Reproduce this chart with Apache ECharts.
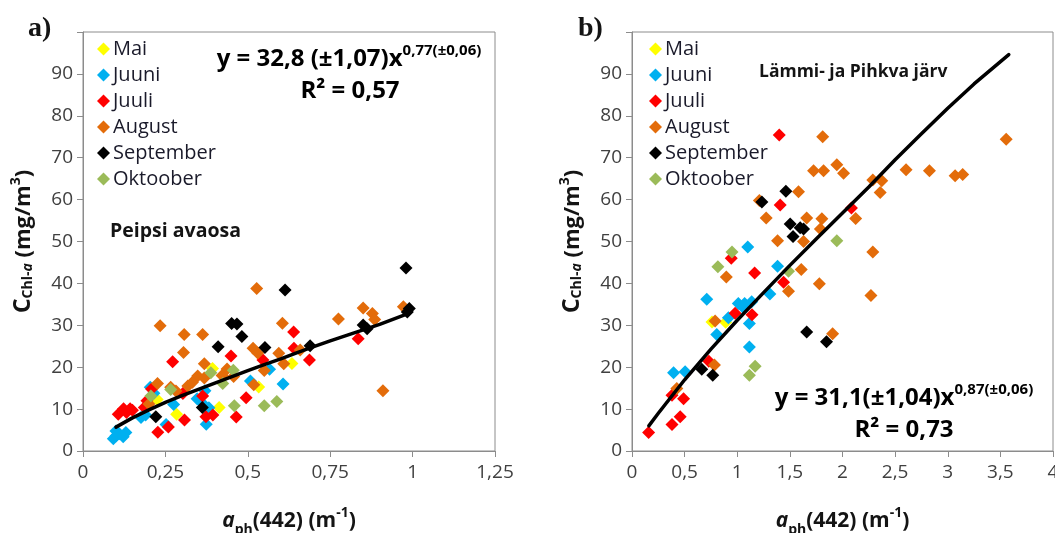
<!DOCTYPE html>
<html>
<head>
<meta charset="utf-8">
<script src="https://cdn.jsdelivr.net/npm/echarts@6/dist/echarts.min.js"></script>
<style>
  html, body { margin: 0; padding: 0; background: #fff; }
  #chart { width: 1055px; height: 533px; }
</style>
</head>
<body>
<div id="chart"></div>
<script>
// months (series names) and colours
const months = ['Mai', 'Juuni', 'Juuli', 'August', 'September', 'Oktoober']
const colors = ['#ffff00', '#00b0f0', '#ff0000', '#e36c0a', '#000000', '#9bbb59']

// tick labels
const xTicksA = ['0', '0,25', '0,5', '0,75', '1', '1,25']
const xTicksB = ['0', '0,5', '1', '1,5', '2', '2,5', '3', '3,5', '4']
const yTicks = ['0', '10', '20', '30', '40', '50', '60', '70', '80', '90', '']

// panel a) Peipsi avaosa : [aph(442), Chl-a]
const maiA = [[0.225, 12.3], [0.284, 8.8], [0.413, 10.4], [0.393, 19.7], [0.533, 15.3], [0.634, 20.9]]
const juuniA = [[0.092, 2.9], [0.100, 3.6], [0.110, 4.1], [0.122, 3.4], [0.130, 4.4], [0.100, 4.8],
  [0.176, 8.0], [0.190, 8.6], [0.204, 15.2], [0.215, 13.8], [0.275, 11.1], [0.252, 6.3],
  [0.346, 12.5], [0.360, 11.6], [0.374, 6.4], [0.382, 10.3], [0.370, 14.4], [0.566, 19.5],
  [0.607, 16.0], [0.508, 16.7]]
const juuliA = [[0.107, 8.8], [0.123, 10.1], [0.143, 10.1], [0.132, 9.2], [0.150, 9.7], [0.186, 10.4],
  [0.194, 12.0], [0.208, 14.8], [0.195, 10.8], [0.227, 4.5], [0.259, 5.7], [0.272, 21.3],
  [0.303, 13.7], [0.308, 7.4], [0.363, 13.1], [0.373, 8.2], [0.394, 8.6], [0.449, 22.7],
  [0.465, 8.1], [0.495, 12.7], [0.546, 21.7], [0.639, 28.4], [0.640, 24.5], [0.687, 21.7],
  [0.835, 26.8]]
const augustA = [[0.527, 38.8], [0.234, 29.9], [0.307, 27.8], [0.363, 27.8], [0.305, 23.5],
  [0.605, 30.5], [0.775, 31.5], [0.850, 34.1], [0.878, 32.8], [0.972, 34.4], [0.910, 14.4],
  [0.516, 24.5], [0.368, 20.8], [0.348, 17.9], [0.226, 16.1], [0.266, 15.2], [0.318, 15.5],
  [0.518, 15.8], [0.550, 19.2], [0.594, 23.3], [0.609, 20.8], [0.437, 19.6], [0.457, 17.8],
  [0.659, 24.1], [0.368, 17.4], [0.885, 31.4], [0.332, 16.4], [0.282, 14.3], [0.530, 23.4],
  [0.200, 11.2], [0.422, 18.0]]
const septemberA = [[0.221, 8.2], [0.362, 10.4], [0.410, 24.9], [0.451, 30.4], [0.467, 30.3],
  [0.482, 27.3], [0.552, 24.7], [0.613, 38.4], [0.689, 25.1], [0.850, 30.1], [0.862, 29.2],
  [0.980, 43.7], [0.984, 33.2], [0.990, 34.0]]
const oktooberA = [[0.206, 13.1], [0.266, 14.7], [0.388, 18.7], [0.424, 16.1], [0.456, 19.3],
  [0.459, 10.8], [0.550, 10.8], [0.588, 11.8]]
const trendA = [[0.10, 5.7], [0.15, 7.9], [0.20, 9.8], [0.25, 11.6], [0.30, 13.2], [0.35, 14.7],
  [0.40, 16.2], [0.45, 17.7], [0.50, 19.2], [0.55, 20.6], [0.60, 22.0], [0.65, 23.5],
  [0.70, 24.9], [0.75, 26.3], [0.80, 27.6], [0.85, 28.9], [0.90, 30.2], [0.98, 32.6]]

// panel b) Lämmi- ja Pihkva järv
const maiB = [[0.76, 30.8], [0.89, 30.7]]
const juuniB = [[0.395, 18.7], [0.505, 18.9], [0.805, 27.8], [0.916, 31.8], [0.71, 36.2], [1.01, 35.2],
  [1.07, 35.2], [1.137, 35.6], [1.31, 37.5], [1.115, 30.4], [1.115, 24.8], [1.10, 48.7],
  [1.383, 44.1], [1.05, 34.4]]
const juuliB = [[0.158, 4.4], [0.38, 6.3], [0.458, 8.2], [0.38, 13.3], [0.49, 12.5], [0.73, 21.4],
  [0.98, 32.9], [1.14, 32.5], [0.943, 46.0], [1.165, 42.5], [1.44, 40.3], [1.408, 58.7],
  [1.399, 75.4], [2.085, 58.0]]
const augustB = [[0.426, 14.9], [0.783, 20.5], [0.79, 31.0], [0.896, 41.5], [1.21, 59.8], [1.275, 55.6],
  [1.383, 50.2], [1.487, 38.1], [1.582, 61.9], [1.608, 43.3], [1.63, 50.0], [1.66, 55.6],
  [1.725, 66.9], [1.78, 39.9], [1.79, 53.0], [1.804, 55.4], [1.812, 75.0], [1.82, 66.9],
  [1.906, 28.0], [1.946, 68.3], [2.01, 66.3], [2.125, 55.5], [2.27, 37.1], [2.288, 47.5],
  [2.288, 64.7], [2.373, 64.5], [2.358, 61.7], [2.604, 67.1], [2.826, 66.9], [3.07, 65.7],
  [3.142, 66.0], [3.555, 74.4]]
const septemberB = [[0.663, 19.5], [0.767, 18.1], [1.234, 59.4], [1.462, 62.0], [1.503, 54.2],
  [1.598, 53.3], [1.63, 53.0], [1.53, 51.2], [1.66, 28.4], [1.848, 26.1]]
const oktooberB = [[0.816, 44.0], [0.95, 47.5], [1.487, 42.9], [1.946, 50.2], [1.17, 20.2], [1.115, 18.1]]
const trendB = [[0.16, 6.0], [0.25, 9.0], [0.5, 17.0], [0.75, 24.3], [1.0, 31.2], [1.25, 37.8],
  [1.5, 44.3], [1.75, 50.6], [2.0, 56.8], [2.25, 63.0], [2.5, 69.5], [2.75, 75.7],
  [3.0, 81.8], [3.25, 87.6], [3.58, 94.6]]

const dataA = [maiA, juuniA, juuliA, augustA, septemberA, oktooberA]
const dataB = [maiB, juuniB, juuliB, augustB, septemberB, oktooberB]

const font = '"Open Sans", Lato, sans-serif'
const tickColor = '#404040'
const frame = '#8c8c8c'
const ink = '#141414'

function xAxis (idx, max, interval, ticks) {
  return {
    type: 'value',
    gridIndex: idx,
    min: 0,
    max: max,
    interval: interval,
    splitLine: { show: false },
    axisLine: { lineStyle: { color: frame } },
    axisTick: { length: 6, lineStyle: { color: frame } },
    axisLabel: {
      color: tickColor,
      fontFamily: font,
      fontSize: 19,
      margin: 12,
      formatter: (v) => ticks[Math.round(v / interval)]
    },
    name: '{a|a}{sub|ph}{n|(442) (m}{sup|-1}{n|)}',
    nameLocation: 'middle',
    nameGap: 55,
    nameTextStyle: {
      rich: {
        a: { fontFamily: font, fontSize: 21, fontWeight: 'bold', fontStyle: 'italic', color: ink, lineHeight: 26, verticalAlign: 'bottom' },
        sub: { fontFamily: font, fontSize: 14, fontWeight: 'bold', color: ink, lineHeight: 26, verticalAlign: 'bottom', padding: [0, 0, -5, 0] },
        n: { fontFamily: font, fontSize: 21, fontWeight: 'bold', color: ink, lineHeight: 26, verticalAlign: 'bottom' },
        sup: { fontFamily: font, fontSize: 14, fontWeight: 'bold', color: ink, lineHeight: 26, verticalAlign: 'top' }
      }
    }
  }
}

function yAxis (idx) {
  return {
    type: 'value',
    gridIndex: idx,
    min: 0,
    max: 100,
    interval: 10,
    splitLine: { show: false },
    axisLine: { lineStyle: { color: frame } },
    axisTick: { length: 6, lineStyle: { color: frame } },
    axisLabel: {
      color: tickColor,
      fontFamily: font,
      fontSize: 19,
      margin: 10,
      formatter: (v) => yTicks[Math.round(v / 10)]
    },
    name: '{c|C}{sub|Chl-}{subi|a}{n| (mg/m}{sup|3}{n|)}',
    nameLocation: 'middle',
    nameGap: 48,
    nameRotate: 90,
    nameTextStyle: {
      rich: {
        c: { fontFamily: font, fontSize: 23, fontWeight: 'bold', color: ink, lineHeight: 26, verticalAlign: 'bottom' },
        sub: { fontFamily: font, fontSize: 14, fontWeight: 'bold', color: ink, lineHeight: 26, verticalAlign: 'bottom' },
        subi: { fontFamily: font, fontSize: 14, fontWeight: 'bold', fontStyle: 'italic', color: ink, lineHeight: 26, verticalAlign: 'bottom' },
        n: { fontFamily: font, fontSize: 22, fontWeight: 'bold', color: ink, lineHeight: 26, verticalAlign: 'bottom' },
        sup: { fontFamily: font, fontSize: 14, fontWeight: 'bold', color: ink, lineHeight: 26, verticalAlign: 'top' }
      }
    }
  }
}

function legend (left) {
  return {
    data: months.map(m => ({ name: m, icon: 'diamond' })),
    orient: 'vertical',
    left: left,
    top: 34,
    itemWidth: 13,
    itemHeight: 13,
    itemGap: 6,
    selectedMode: false,
    textStyle: { fontFamily: font, fontSize: 20, color: '#1a1a2a', lineHeight: 20, padding: [0, 0, 0, -2] }
  }
}

const series = []
;[dataA, dataB].forEach((set, g) => {
  set.forEach((pts, i) => {
    series.push({
      name: months[i],
      type: 'scatter',
      xAxisIndex: g,
      yAxisIndex: g,
      symbol: 'diamond',
      symbolSize: 13,
      itemStyle: { color: colors[i], opacity: 1 },
      data: pts
    })
  })
})
;[trendA, trendB].forEach((pts, g) => {
  series.push({
    name: 'trend' + g,
    type: 'line',
    xAxisIndex: g,
    yAxisIndex: g,
    showSymbol: false,
    lineStyle: { color: '#000', width: 3.5, cap: 'round', join: 'round' },
    z: 5,
    data: pts
  })
})

const eqRich = {
  b: { fontFamily: font, fontSize: 24, fontWeight: 'bold', color: ink, lineHeight: 28, verticalAlign: 'bottom' },
  s: { fontFamily: font, fontSize: 15, fontWeight: 'bold', color: ink, lineHeight: 28, verticalAlign: 'top' }
}

function txt (x, y, text, opts) {
  return {
    type: 'text',
    x: x,
    y: y,
    z: 10,
    style: Object.assign({ text: text, fill: ink, font: 'bold 19.5px ' + font, verticalAlign: 'middle' }, opts || {})
  }
}

function eq (x, y, text) {
  return { type: 'text', x: x, y: y, z: 10, style: { text: text, rich: eqRich, align: 'center', verticalAlign: 'middle' } }
}

const chart = echarts.init(document.getElementById('chart'))
chart.setOption({
  animation: false,
  backgroundColor: '#fff',
  grid: [
    { left: 83, top: 32, width: 412, height: 419, show: true, borderColor: frame, borderWidth: 1, outerBoundsMode: 'none' },
    { left: 632, top: 32, width: 421, height: 419, show: true, borderColor: frame, borderWidth: 1, outerBoundsMode: 'none' }
  ],
  xAxis: [xAxis(0, 1.25, 0.25, xTicksA), xAxis(1, 4, 0.5, xTicksB)],
  yAxis: [yAxis(0), yAxis(1)],
  legend: [legend(92), legend(644)],
  series: series,
  graphic: [
    txt(28, 29, 'a)', { font: 'bold 28px "Liberation Serif", serif' }),
    txt(578, 29, 'b)', { font: 'bold 28px "Liberation Serif", serif' }),
    txt(110, 231, 'Peipsi avaosa'),
    txt(759, 72, 'Lämmi- ja Pihkva järv', { font: 'bold 17.5px ' + font }),
    eq(349, 57, '{b|y = 32,8 (±1,07)x}{s|0,77(±0,06)}'),
    eq(350, 89, '{b|R² = 0,57}'),
    eq(904, 396, '{b|y = 31,1(±1,04)x}{s|0,87(±0,06)}'),
    eq(904, 428, '{b|R² = 0,73}')
  ]
})
</script>
</body>
</html>
